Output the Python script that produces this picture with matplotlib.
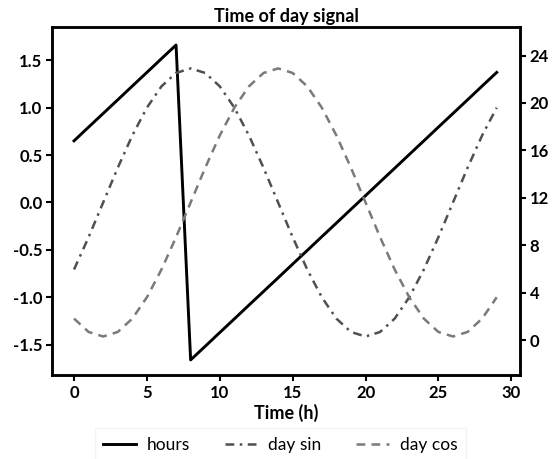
import matplotlib
matplotlib.use("Agg")
import matplotlib.pyplot as plt

# time steps (h) and the three signals
time_h = list(range(30))
hours = [0.650, 0.795, 0.939, 1.083, 1.228, 1.372, 1.517, 1.661,
         -1.661, -1.517, -1.372, -1.228, -1.083, -0.939, -0.795, -0.650,
         -0.506, -0.361, -0.217, -0.072, 0.072, 0.217, 0.361, 0.506,
         0.650, 0.795, 0.939, 1.083, 1.228, 1.372]
day_sin = [-0.707, -0.366, 0.0, 0.366, 0.707, 1.0, 1.225, 1.366,
           1.414, 1.366, 1.225, 1.0, 0.707, 0.366, 0.0, -0.366,
           -0.707, -1.0, -1.225, -1.366, -1.414, -1.366, -1.225, -1.0,
           -0.707, -0.366, 0.0, 0.366, 0.707, 1.0]
day_cos = [-1.225, -1.366, -1.414, -1.366, -1.225, -1.0, -0.707, -0.366,
           0.0, 0.366, 0.707, 1.0, 1.225, 1.366, 1.414, 1.366,
           1.225, 1.0, 0.707, 0.366, 0.0, -0.366, -0.707, -1.0,
           -1.225, -1.366, -1.414, -1.366, -1.225, -1.0]
right_ticks = [0, 4, 8, 12, 16, 20, 24]

plt.rcParams['font.family'] = ['Lato', 'DejaVu Sans']

fig = plt.figure(figsize=(5.55, 4.59), dpi=100)
ax = fig.add_axes([0.094, 0.183, 0.843, 0.758])

ax.plot(time_h, hours, color='black', lw=2.1, label='hours')
ax.plot(time_h, day_sin, color='#505050', lw=1.8, ls=(0, (3.5, 2.2, 1, 2.2)),
        label='day sin')
ax.plot(time_h, day_cos, color='#7a7a7a', lw=1.8, ls=(0, (3.5, 2.5)),
        label='day cos')

ax.set_xlim(-1.5, 30.6)
ax.set_ylim(-1.82, 1.85)
ax.set_xticks([0, 5, 10, 15, 20, 25, 30])
ax.set_yticks([-1.5, -1.0, -0.5, 0.0, 0.5, 1.0, 1.5])
ax.set_yticklabels(['-1.5', '-1.0', '-0.5', '0.0', '0.5', '1.0', '1.5'])

ax2 = ax.twinx()
ax2.set_ylim(-2.95, 26.4)
ax2.set_yticks(right_ticks)

for a in (ax, ax2):
    for s in a.spines.values():
        s.set_linewidth(1.8)
    a.tick_params(direction='out', length=4, width=1.5, labelsize=12, pad=3)
    for lbl in a.get_xticklabels() + a.get_yticklabels():
        lbl.set_fontweight('bold')

ax.set_title('Time of day signal', fontsize=13, fontweight='bold', pad=4)
ax.set_xlabel('Time (h)', fontsize=13, fontweight='bold', labelpad=2)

leg = fig.legend(loc='lower center', bbox_to_anchor=(0.505, -0.025), ncol=3,
                 fontsize=12.5, frameon=True, fancybox=False,
                 handlelength=1.9, handletextpad=0.6, columnspacing=2.0,
                 borderpad=0.5)
leg.get_frame().set_edgecolor('#f2f2f2')
leg.get_frame().set_linewidth(1.0)

fig.savefig('out.png', dpi=100)
